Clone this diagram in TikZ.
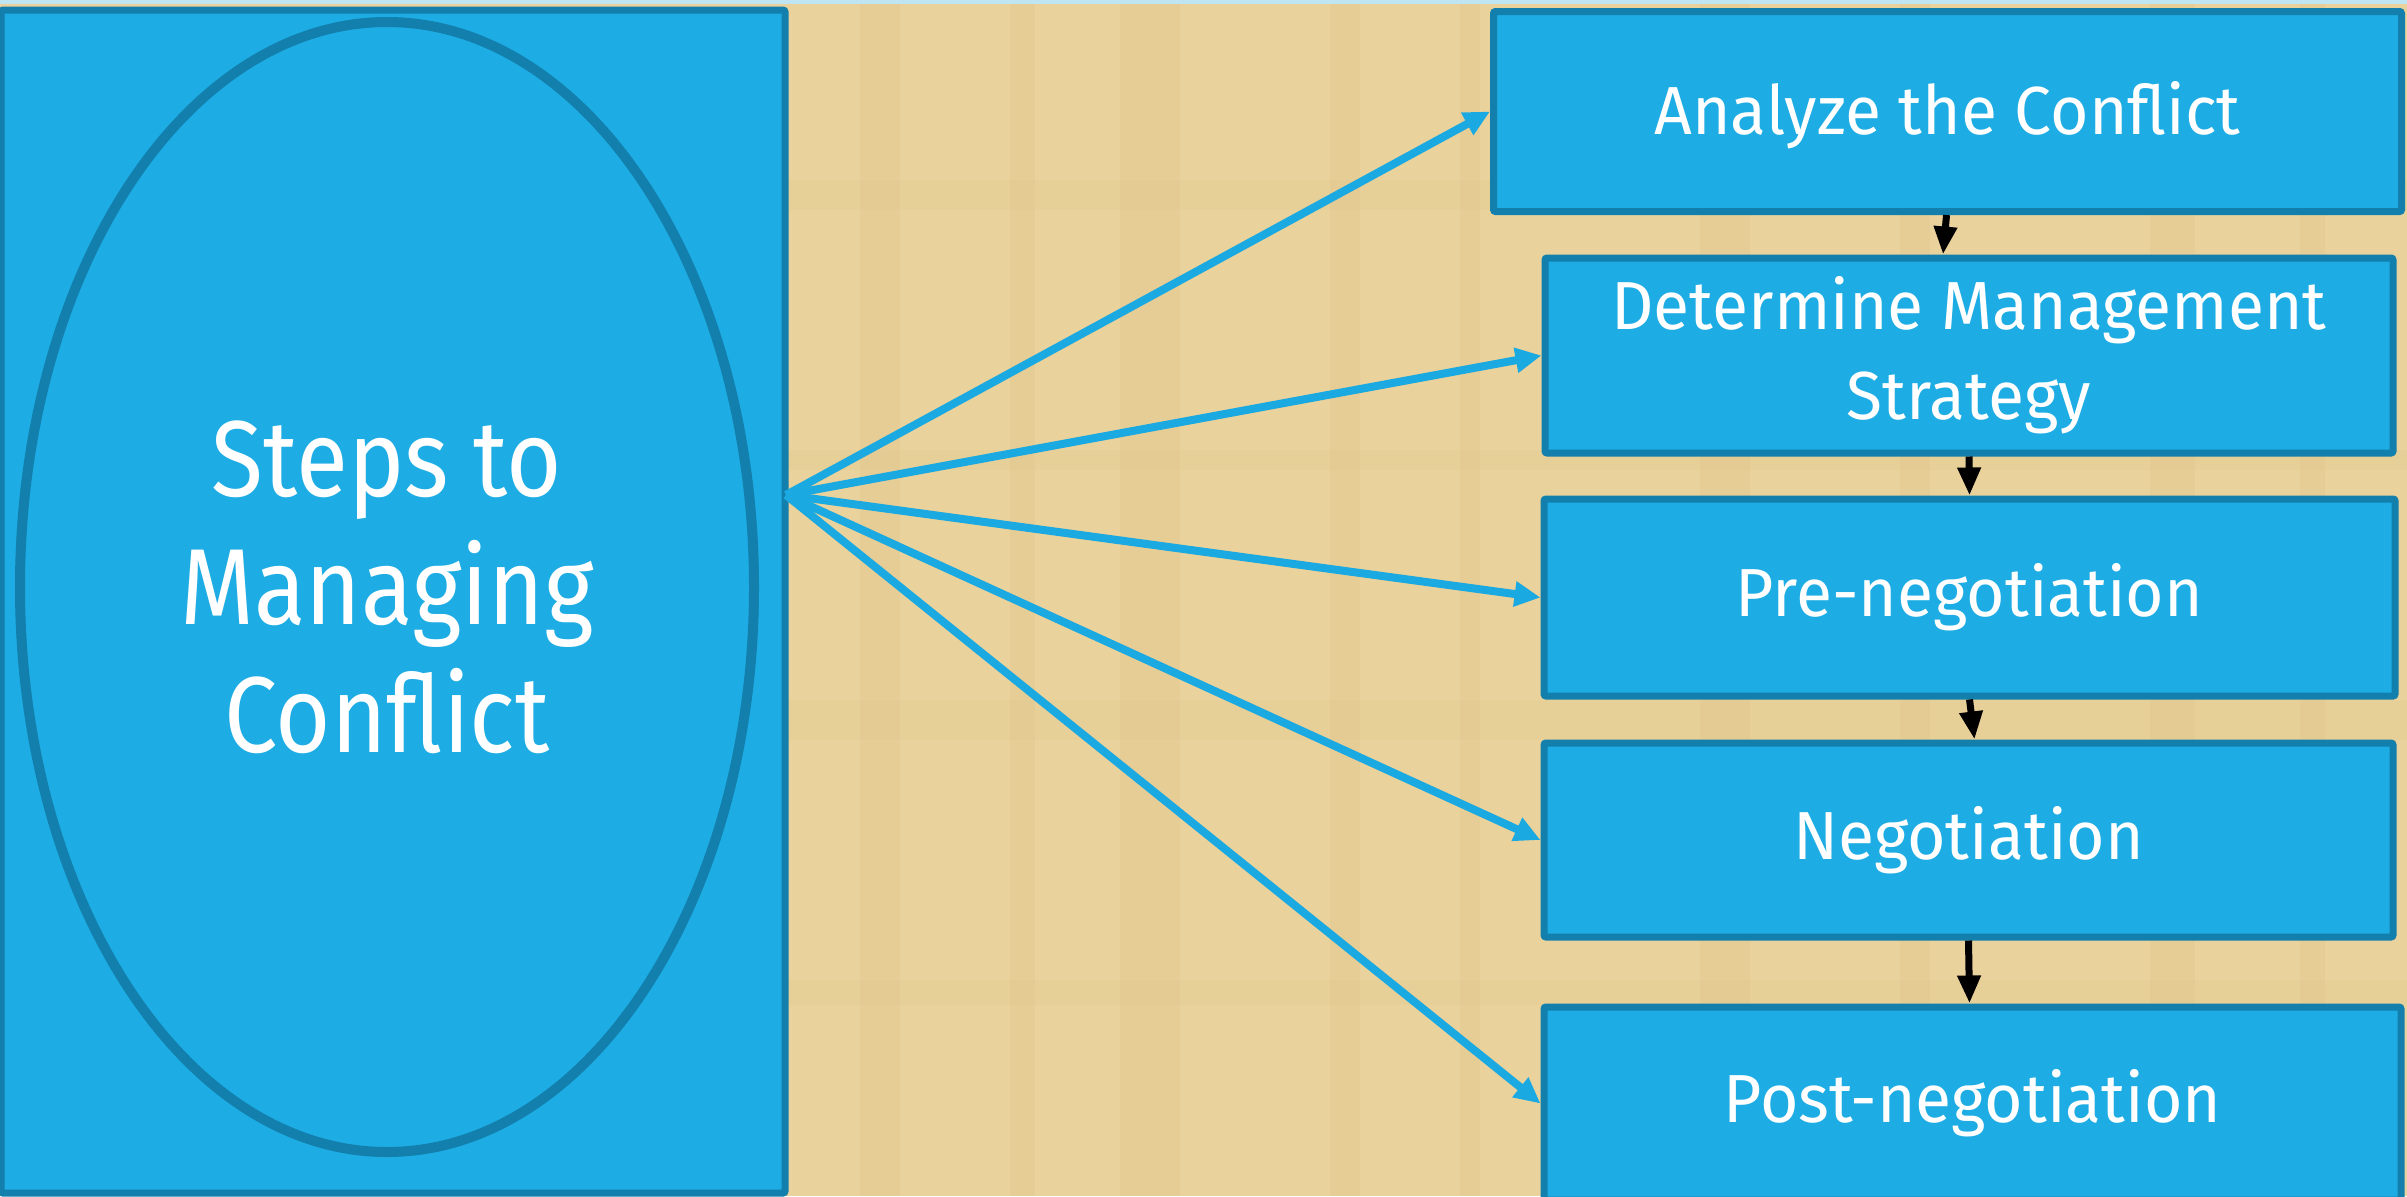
\documentclass[tikz,border=0pt]{standalone}
\usepackage{fontspec}
\setmainfont{Fira Sans}
\newfontfamily\boxfont{Fira Sans}[FakeStretch=0.97]
\newfontfamily\ovalfont{Fira Sans}[FakeStretch=0.88]
\usetikzlibrary{arrows.meta,shapes.geometric}
\definecolor{bgpaper}{HTML}{EAD29C}
\definecolor{bgdark}{HTML}{D9BB7E}
\definecolor{boxfill}{HTML}{1DACE3}
\definecolor{boxline}{HTML}{127FAC}
\definecolor{arrblue}{HTML}{1BA9E1}
\definecolor{topline}{HTML}{BFE4F2}
\tikzset{
  stepbox/.style={draw=boxline, fill=boxfill, line width=3.5pt, rounded corners=1pt,
    text=white, align=center, inner sep=0pt,
    font=\boxfont\fontsize{34}{45}\selectfont},
  bigbox/.style={draw=boxline, fill=boxfill, line width=3.5pt, rounded corners=1pt, inner sep=0pt},
  oval/.style={ellipse, draw=boxline, fill=boxfill, line width=5pt, inner sep=0pt,
    text=white, align=center, font=\ovalfont\fontsize{54}{64}\selectfont},
  bluearrow/.style={draw=arrblue, line width=4pt, -{Triangle[length=13pt,width=12pt]}},
  blackarrow/.style={draw=black, line width=3.5pt, -{Triangle[length=14pt,width=11pt]}},
}
\begin{document}
\begin{tikzpicture}[x=0.5pt,y=-0.5pt]
\useasboundingbox (0,0) rectangle (2407,1196);
\clip (0,0) rectangle (2407,1196);
\fill[bgpaper] (0,0) rectangle (2407,1196);
% faint parchment stripes
\foreach \xx/\ww in {860/40,1010/25,1120/60,1330/30,1460/20,1700/50,1900/30,2150/45,2300/25}{
  \fill[bgdark,opacity=0.18] (\xx,0) rectangle (\xx+\ww,1196);
}
\foreach \yy/\hh in {180/30,450/20,700/40,980/25}{
  \fill[bgdark,opacity=0.12] (786,\yy) rectangle (2407,\yy+\hh);
}
\fill[topline] (0,0) rectangle (2407,4);

% left panel
\node[bigbox, minimum width=392pt, minimum height=591.5pt] (panel) at (393,601.5) {};
\node[oval, minimum width=367pt, minimum height=565pt] (oval) at (387,587)
  {Steps to\\Managing\\Conflict};

% step boxes
\node[stepbox, minimum width=454pt, minimum height=100pt] (b1) at (1947.5,111.5) {\raisebox{-3pt}[25pt][8pt]{Analyze the Conflict}};
\node[stepbox, minimum width=424pt, minimum height=97.5pt] (b2) at (1969,355.5) {Determine Management\\Strategy};
\node[stepbox, minimum width=425.5pt, minimum height=98.5pt] (b3) at (1969.5,597.5) {Pre-negotiation};
\node[stepbox, minimum width=424.5pt, minimum height=97pt] (b4) at (1968.5,840) {Negotiation};
\node[stepbox, minimum width=428.5pt, minimum height=96.5pt] (b5) at (1972.5,1103.5) {Post-negotiation};

% source point
\coordinate (src) at (786,495);

% fan arrows
\draw[bluearrow] (src) -- (b1.west);
\draw[bluearrow] (src) -- (b2.west);
\draw[bluearrow] (src) -- (b3.west);
\draw[bluearrow] (src) -- (b4.west);
\draw[bluearrow] (src) -- (b5.west);

% chain arrows
\draw[blackarrow] ([xshift=-0.5pt]b1.south) -- ([xshift=-13pt]b2.north);
\draw[blackarrow] (b2.south) -- (b3.north);
\draw[blackarrow] (b3.south) -- ([xshift=3pt]b4.north);
\draw[blackarrow] (b4.south) -- ([xshift=-1.5pt]b5.north);
\end{tikzpicture}
\end{document}
